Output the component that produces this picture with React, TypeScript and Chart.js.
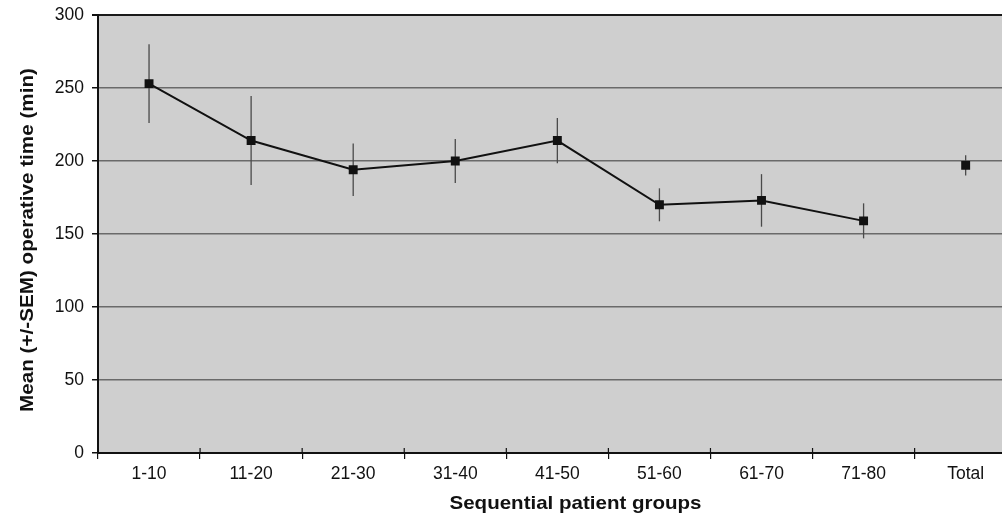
import React, { useEffect, useRef } from "react";
import { Chart, registerables } from "chart.js";

Chart.register(...registerables);

const categories = ["1-10", "11-20", "21-30", "31-40", "41-50", "51-60", "61-70", "71-80", "Total"];
const groupMeans = [253, 214, 194, 200, 214, 170, 173, 159, null];
const groupSems = [27, 30.5, 18, 15, 15.5, 11.3, 18, 12, null];
const totalMeans = [null, null, null, null, null, null, null, null, 197];
const totalSems = [null, null, null, null, null, null, null, null, 7];
const yTicks = [0, 50, 100, 150, 200, 250, 300];
const xTitle = "Sequential patient groups";
const yTitle = "Mean (+/-SEM) operative time (min)";

const FONT = "'Liberation Sans', Arial, Helvetica, sans-serif";

const plotBg = {
  id: "plotBg",
  beforeDraw(chart: any) {
    const { ctx, chartArea } = chart;
    ctx.save();
    ctx.fillStyle = "#cfcfcf";
    ctx.fillRect(chartArea.left, chartArea.top, chartArea.right - chartArea.left, chartArea.bottom - chartArea.top);
    ctx.restore();
  },
};

const errorBars = {
  id: "errorBars",
  beforeDatasetsDraw(chart: any) {
    const { ctx } = chart;
    const y = chart.scales.y;
    ctx.save();
    ctx.strokeStyle = "#4a4a4a";
    ctx.lineWidth = 1.3;
    chart.data.datasets.forEach((ds: any, di: number) => {
      const meta = chart.getDatasetMeta(di);
      const errs = ds.sems as (number | null)[];
      ds.data.forEach((v: number | null, i: number) => {
        const e = errs[i];
        if (v == null || e == null) return;
        const px = meta.data[i].x;
        ctx.beginPath();
        ctx.moveTo(px, y.getPixelForValue(v + e));
        ctx.lineTo(px, y.getPixelForValue(v - e));
        ctx.stroke();
      });
    });
    ctx.restore();
  },
};

const axisTitles = {
  id: "axisTitles",
  afterDraw(chart: any) {
    const { ctx } = chart;
    const x = chart.scales.x;
    // upward part of x tick marks
    ctx.save();
    ctx.strokeStyle = "#111";
    ctx.lineWidth = 1.2;
    const n = categories.length;
    for (let i = 0; i <= n; i++) {
      const px = x.getPixelForValue(i - 0.5);
      ctx.beginPath();
      ctx.moveTo(px, x.top - 5);
      ctx.lineTo(px, x.top);
      ctx.stroke();
    }
    ctx.restore();

    ctx.save();
    ctx.fillStyle = "#111";
    ctx.font = `bold 19px ${FONT}`;
    ctx.textAlign = "center";
    ctx.textBaseline = "alphabetic";
    // x title
    let w = ctx.measureText(xTitle).width;
    ctx.save();
    ctx.translate(575.5, 509);
    ctx.scale(252 / w, 1);
    ctx.fillText(xTitle, 0, 0);
    ctx.restore();
    // y title
    w = ctx.measureText(yTitle).width;
    ctx.save();
    ctx.translate(33.3, 240);
    ctx.rotate(-Math.PI / 2);
    ctx.scale(344 / w, 1);
    ctx.fillText(yTitle, 0, 0);
    ctx.restore();
    ctx.restore();
  },
};

export default function App() {
  const ref = useRef<HTMLCanvasElement>(null);
  useEffect(() => {
    if (!ref.current) return;
    const chart = new Chart(ref.current, {
      type: "line",
      data: {
        labels: categories,
        datasets: [
          {
            data: groupMeans,
            sems: groupSems,
            borderColor: "#111",
            borderWidth: 2,
            backgroundColor: "#111",
            pointStyle: "rect",
            pointRadius: 6.3,
            pointBorderWidth: 0,
            spanGaps: false,
          } as any,
          {
            data: totalMeans,
            sems: totalSems,
            showLine: false,
            borderColor: "#111",
            backgroundColor: "#111",
            pointStyle: "rect",
            pointRadius: 6.3,
            pointBorderWidth: 0,
          } as any,
        ],
      },
      options: {
        responsive: false,
        animation: false,
        layout: { padding: { top: 15, right: 0, bottom: 0, left: 0 } },
        plugins: { legend: { display: false }, tooltip: { enabled: false } },
        scales: {
          x: {
            type: "category",
            offset: true,
            grid: {
              offset: true,
              drawOnChartArea: false,
              drawTicks: true,
              tickLength: 6,
              color: "#111",
              lineWidth: 1.2,
            },
            border: { display: true, color: "#111", width: 2 },
            ticks: { font: { family: FONT, size: 17.5 }, color: "#111", padding: 5, maxRotation: 0, autoSkip: false },
            title: { display: false },
            afterFit: (s: any) => {
              s.height = 62;
              s.paddingLeft = 0;
              s.paddingRight = 0;
            },
          },
          y: {
            min: 0,
            max: 300,
            afterBuildTicks: (s: any) => {
              s.ticks = yTicks.map((v) => ({ value: v }));
            },
            grid: {
              color: (c: any) => (c.tick && c.tick.value === 300 ? "#1a1a1a" : "#6a6a6a"),
              lineWidth: (c: any) => (c.tick && c.tick.value === 300 ? 2 : 1.5),
              tickLength: 6,
              tickColor: "#111",
            } as any,
            border: { display: true, color: "#111", width: 2 },
            ticks: { font: { family: FONT, size: 17.5 }, color: "#111", padding: 8 },
            title: { display: false },
            afterFit: (s: any) => {
              s.width = 98;
              s.paddingTop = 0;
              s.paddingBottom = 0;
            },
          },
        },
      },
      plugins: [plotBg, errorBars, axisTitles],
    });
    return () => chart.destroy();
  }, []);
  return (
    <div style={{ position: "absolute", left: 0, top: 0, width: 1002, height: 515, overflow: "hidden", background: "#fff" }}>
      <canvas ref={ref} width={1023} height={515} style={{ display: "block" }} />
    </div>
  );
}
